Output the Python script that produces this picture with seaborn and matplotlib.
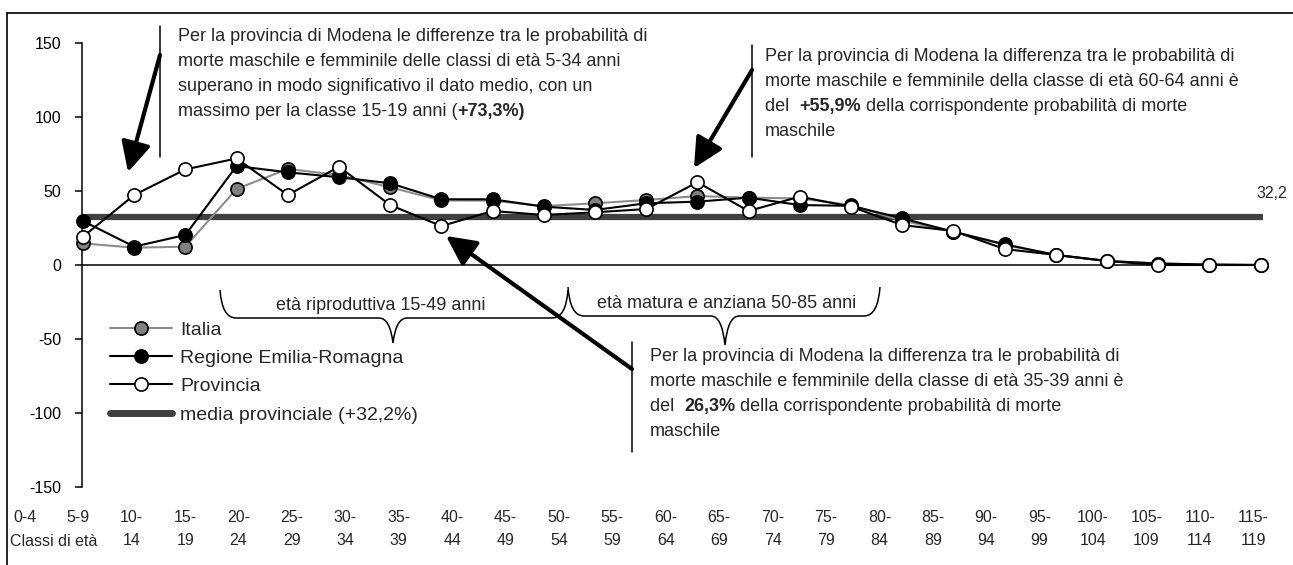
import numpy as np
import pandas as pd
import seaborn as sns
from matplotlib import pyplot as plt
from matplotlib.lines import Line2D
from matplotlib.path import Path
from matplotlib.patches import PathPatch

# ---------------- data ----------------
classi = ["0-4", "5-9", "10-14", "15-19", "20-24", "25-29", "30-34", "35-39",
          "40-44", "45-49", "50-54", "55-59", "60-64", "65-69", "70-74", "75-79",
          "80-84", "85-89", "90-94", "95-99", "100-104", "105-109", "110-114", "115-119"]
italia = [14.6, 11.7, 12.4, 51.4, 64.9, 60.8, 52.5, 43.6, 43.5, 39.8, 41.7, 43.9,
          46.6, 45.5, 45.0, 40.5, 30.0, 22.5, 13.5, 6.8, 2.7, 1.0, 0.3, 0.0]
regione = [29.7, 12.4, 20.3, 66.9, 62.6, 59.3, 55.2, 44.4, 44.4, 39.4, 37.2, 41.7,
           42.8, 45.5, 40.5, 40.0, 31.5, 22.5, 14.0, 6.8, 2.7, 1.0, 0.3, 0.0]
provincia = [19.1, 47.3, 64.6, 72.0, 47.3, 66.4, 40.5, 26.3, 36.5, 33.8, 35.6, 37.8,
             55.9, 36.5, 46.2, 39.4, 27.0, 23.0, 10.8, 6.8, 2.7, 0.0, 0.0, 0.0]
media_provinciale = 32.2
yticks = [-150, -100, -50, 0, 50, 100, 150]

W, H = 1293, 565

sns.set_style("white")
plt.rcParams['font.family'] = ['Liberation Sans', 'DejaVu Sans']
plt.rcParams['axes.unicode_minus'] = False


def fx(x):
    return x / W


def fy(y):
    return 1 - y / H


fig = plt.figure(figsize=(W / 100, H / 100), dpi=100)
ax = fig.add_axes([fx(82), fy(487), fx(1263) - fx(82), fy(43) - fy(487)])

df = pd.DataFrame({"pos": np.arange(len(classi)), "Italia": italia,
                   "Regione Emilia-Romagna": regione, "Provincia": provincia})

styles = {
    "Italia": dict(color="#8c8c8c", markerfacecolor="#808080"),
    "Regione Emilia-Romagna": dict(color="black", markerfacecolor="black"),
    "Provincia": dict(color="black", markerfacecolor="white"),
}

ax.axhline(0, color="black", lw=1.1, zorder=1)
ax.axhline(media_provinciale, color="#404040", lw=4.5, zorder=2)
for name, st in styles.items():
    sns.lineplot(data=df, x="pos", y=name, ax=ax, marker="o", markersize=9.5,
                 markeredgecolor="black", markeredgewidth=1.2, lw=1.5,
                 clip_on=False, zorder=3, **st)

ax.set_xlim(-0.0195, 23.047)
ax.set_ylim(-150, 150)
for s in ["top", "right", "bottom"]:
    ax.spines[s].set_visible(False)
ax.spines["left"].set_color("black")
ax.spines["left"].set_linewidth(1.1)
ax.set_xticks([])
ax.set_xlabel("")
ax.set_ylabel("")
ax.set_yticks(yticks)
ax.set_yticklabels([str(v) for v in yticks])
ax.tick_params(axis="y", left=True, direction="out", length=5, width=1.1,
               pad=10, labelsize=11.5, colors="black")

# x labels sit on their own row, spaced a bit wider than the points
lab = fig.add_axes([fx(25 - 0.5 * 53.4), fy(510), fx(53.4 * 24), 0.0001])
lab.set_xlim(-0.5, 23.5)
lab.set_xticks(range(len(classi)))
lab.set_xticklabels([c if len(c) <= 3 else c.replace("-", "-\n", 1) for c in classi],
                    fontsize=11.5, linespacing=1.65)
lab.tick_params(axis="x", length=0, pad=0, bottom=True)
lab.set_yticks([])
for s in lab.spines.values():
    s.set_visible(False)
lab.patch.set_alpha(0)
fig.text(fx(10), fy(541), "Classi di età", fontsize=11.5, va="center", ha="left")

# legend
handles = [Line2D([], [], color=st["color"], marker="o", markerfacecolor=st["markerfacecolor"],
                  markeredgecolor="black", markeredgewidth=1.2, ms=9.5, lw=1.5)
           for st in styles.values()]
handles.append(Line2D([], [], color="#404040", lw=5, solid_capstyle="round"))
labels = list(styles.keys()) + ["media provinciale (+32,2%)"]
ax.legend(handles, labels, loc="upper left", bbox_to_anchor=(fx(110), fy(321)),
          bbox_transform=fig.transFigure, frameon=False, fontsize=14,
          handlelength=3.2, handletextpad=0.4, labelspacing=0.55,
          borderpad=0, borderaxespad=0)

fig.text(fx(1272), fy(193), "32,2", fontsize=11.5, ha="center", va="center")


# ---------------- annotations ----------------
def write_line(x, y, parts, size=13):
    prev = None
    for txt, bold in parts:
        w = "bold" if bold else "normal"
        if prev is None:
            prev = fig.text(fx(x), fy(y), txt, fontsize=size, fontweight=w,
                            va="bottom", ha="left")
        else:
            prev = ax.annotate(txt, xy=(1, 0), xycoords=prev, fontsize=size,
                               fontweight=w, va="bottom", ha="left")


def write_block(x, y0, lines, step=25):
    for i, ln in enumerate(lines):
        parts = ln if isinstance(ln, list) else [(ln, False)]
        write_line(x, y0 + i * step, parts)


write_block(178, 45, [
    "Per la provincia di Modena le differenze tra le probabilità di",
    "morte maschile e femminile delle classi di età 5-34 anni",
    "superano in modo significativo il dato medio, con un",
    [("massimo per la classe 15-19 anni (", False), ("+73,3%)", True)],
])
write_block(765, 65, [
    "Per la provincia di Modena la differenza tra le probabilità di",
    "morte maschile e femminile della classe di età 60-64 anni è",
    [("del  ", False), ("+55,9%", True), (" della corrispondente probabilità di morte", False)],
    "maschile",
])
write_block(650, 365, [
    "Per la provincia di Modena la differenza tra le probabilità di",
    "morte maschile e femminile della classe di età 35-39 anni è",
    [("del  ", False), ("26,3%", True), (" della corrispondente probabilità di morte", False)],
    "maschile",
])


def vline(x, y0, y1):
    fig.add_artist(Line2D([fx(x), fx(x)], [fy(y0), fy(y1)], color="black", lw=1.1))


vline(160, 26, 157)
vline(752, 45, 157)
vline(632, 342, 452)


def arrow(x0, y0, x1, y1):
    ax.annotate("", xy=(x1, H - y1), xycoords="figure pixels",
                xytext=(x0, H - y0), textcoords="figure pixels",
                arrowprops=dict(arrowstyle="-|>,head_length=0.9,head_width=0.45",
                                lw=3, color="black", shrinkA=0, shrinkB=0,
                                mutation_scale=20))


arrow(160, 55, 128, 172)
arrow(752, 70, 694, 168)
arrow(632, 369, 446, 236)


def brace(x0, x1, xt, yl, ye, yt):
    pts = [(x0, ye), (x0 + 2, yl), (x0 + 16, yl), (xt - 14, yl),
           (xt - 3, yl), (xt, yt), (xt + 3, yl), (xt + 14, yl),
           (x1 - 16, yl), (x1 - 2, yl), (x1, ye)]
    codes = [Path.MOVETO, Path.CURVE3, Path.CURVE3, Path.LINETO,
             Path.CURVE3, Path.CURVE3, Path.CURVE3, Path.CURVE3,
             Path.LINETO, Path.CURVE3, Path.CURVE3]
    verts = [(fx(px), fy(py)) for px, py in pts]
    fig.add_artist(PathPatch(Path(verts, codes), fill=False, lw=1.1,
                             edgecolor="black", transform=fig.transFigure))


brace(220, 568, 393, 318, 290, 343)
brace(568, 880, 725, 316, 287, 345)
fig.text(fx(381), fy(305), "età riproduttiva 15-49 anni", fontsize=13, ha="center", va="center")
fig.text(fx(727), fy(304), "età matura e anziana 50-85 anni", fontsize=13, ha="center", va="center")

# outer frame
fig.add_artist(Line2D([fx(7), 1], [fy(13), fy(13)], color="black", lw=1.2))
fig.add_artist(Line2D([fx(7), fx(7)], [fy(13), 0], color="black", lw=1.2))

fig.savefig("out.png", dpi=100)
